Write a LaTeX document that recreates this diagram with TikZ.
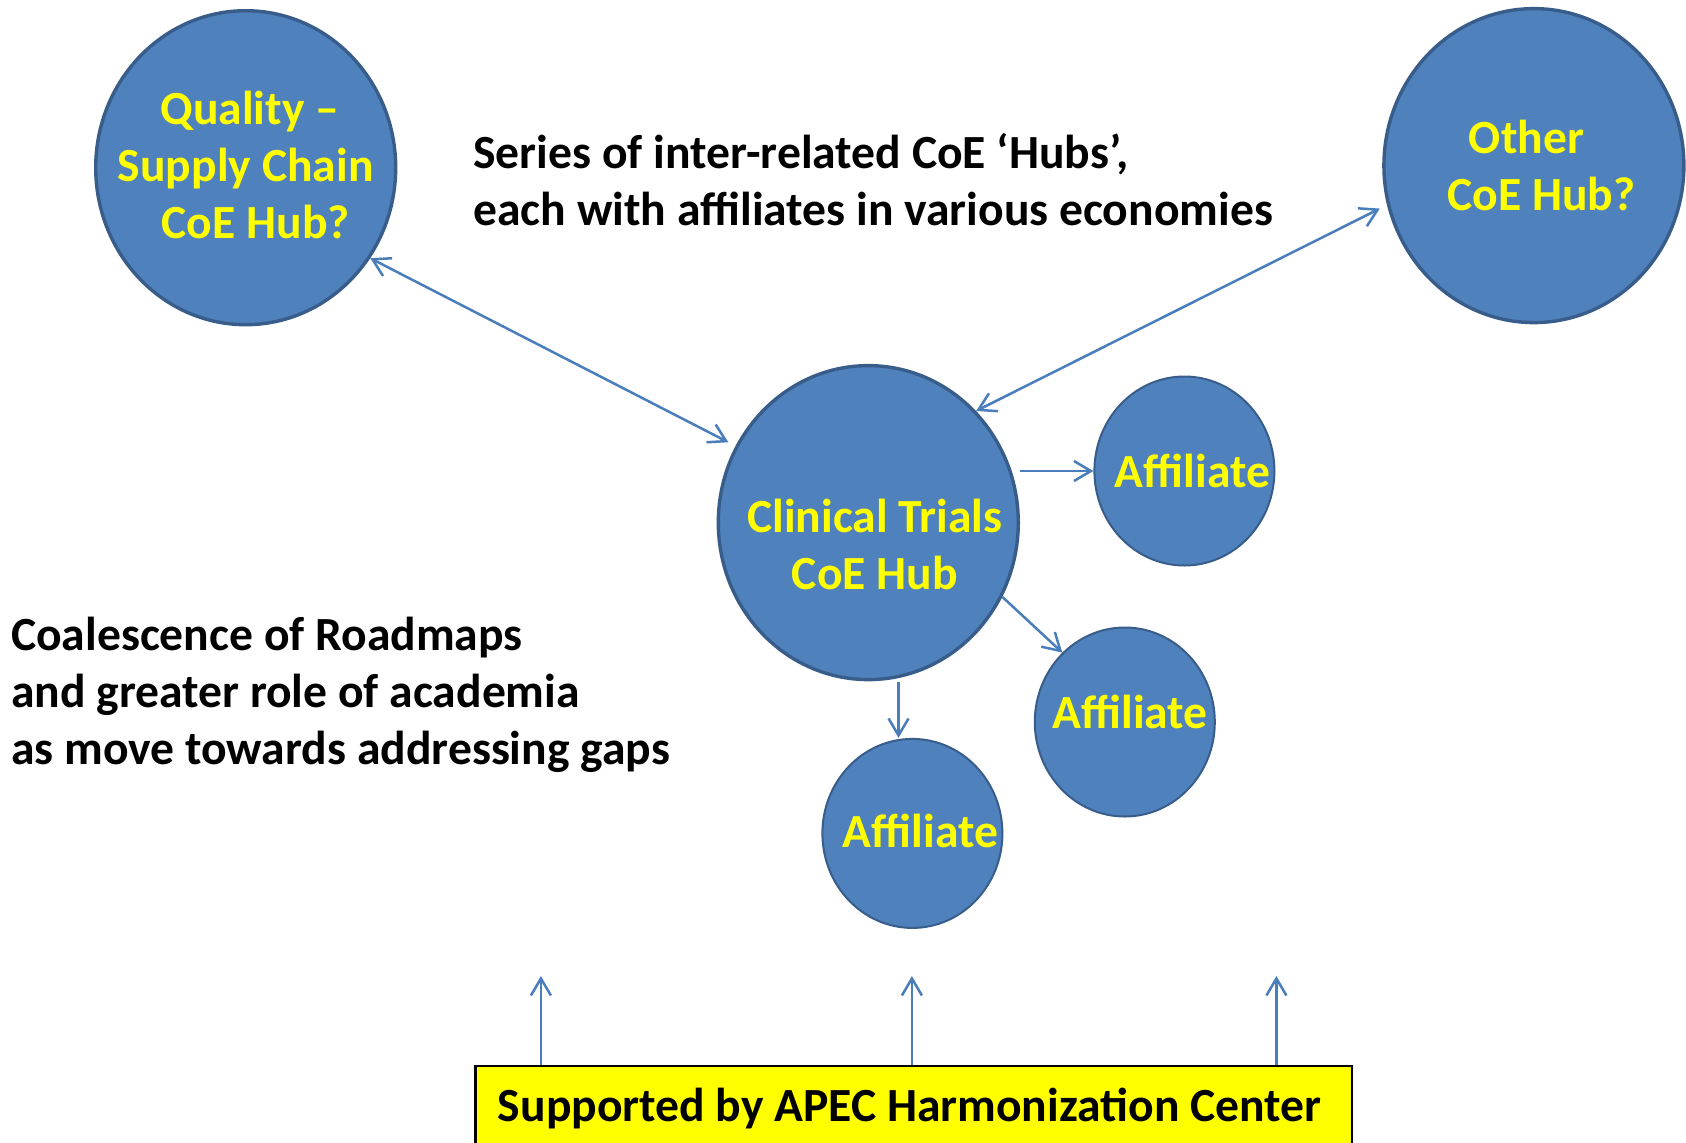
\documentclass[tikz,border=0pt]{standalone}
\usepackage{fontspec}
\setmainfont{Carlito}
\usetikzlibrary{shapes.geometric,arrows.meta}
\definecolor{hubfill}{HTML}{4F81BD}
\definecolor{hubdraw}{HTML}{385D8A}
\definecolor{arrowblue}{HTML}{4A7EBB}
\definecolor{txtyellow}{HTML}{FFFF00}
\begin{document}
\begin{tikzpicture}[x=0.5pt,y=-0.5pt,
  hub/.style={ellipse, draw=hubdraw, line width=1.7pt, fill=hubfill,
    minimum width=150pt, minimum height=157pt, inner sep=0pt},
  aff/.style={ellipse, draw=hubdraw, line width=1pt, fill=hubfill,
    minimum width=90pt, minimum height=94.5pt, inner sep=0pt},
  hubtxt/.style={text=txtyellow, font=\fontsize{23.8}{28.5}\selectfont\bfseries,
    align=center, inner sep=0pt},
  plaintxt/.style={text=black, font=\fontsize{23.8}{28.5}\selectfont\bfseries,
    align=left, inner sep=0pt, anchor=west},
  link/.style={draw=arrowblue, line width=1.25pt},
  onehead/.style={arrows={-Straight Barb[length=8.5pt,width=10pt]}},
  twohead/.style={arrows={Straight Barb[length=8.5pt,width=10pt]-Straight Barb[length=8.5pt,width=10pt]}}
]
\useasboundingbox (0,0) rectangle (1686,1142);

% hubs
\node[hub, label={[hubtxt, yshift=1.5pt]center:{\hspace*{4pt}Quality –\\Supply Chain\\\hspace*{10pt}CoE Hub?}}] (q) at (245.7,167.7) {};
\node[hub, label={[hubtxt]center:{Other\hspace*{7.5pt}\\\hspace*{7.5pt}CoE Hub?}}] (o) at (1533.9,165.6) {};
\node[hub, label={[hubtxt, xshift=3.25pt, yshift=-11pt]center:{Clinical Trials\\CoE Hub}}] (c) at (868.3,522.6) {};

% affiliates
\node[aff, label={[hubtxt, xshift=4pt]center:{Affiliate}}] (a1) at (1184.4,471) {};
\node[aff, label={[hubtxt, xshift=2.7pt, yshift=5pt]center:{Affiliate}}] (a2) at (1124.8,722) {};
\node[aff, label={[hubtxt, xshift=4pt, yshift=1pt]center:{Affiliate}}] (a3) at (912.4,833.4) {};

% free texts
\node[plaintxt] (series) at (473,180) {Series of inter-related CoE ‘Hubs’,\\each with affiliates in various economies};
\node[plaintxt] (coal) at (10.75,695) {Coalescence of Roadmaps\\and greater role of academia\\as move towards addressing gaps};

% support box
\node[draw=black, line width=1.3pt, fill=txtyellow, anchor=north west,
  minimum width=438.3pt, minimum height=42.75pt, inner sep=0pt,
  font=\fontsize{23.8}{28.5}\selectfont\bfseries] (box) at (474,1064.5) {\hspace*{-4pt}Supported by APEC Harmonization Center};

\coordinate (s1) at (540.9,976);
\coordinate (s2) at (911.9,976);
\coordinate (s3) at (1276.4,976);

% connectors
\draw[link, twohead, shorten >=4pt] (q.-36) -- (c.150.6);
\draw[link, twohead, shorten <=4pt] (o.195) -- (c.46);
\draw[link, onehead] (c.east |- a1) -- (a1.west);
\draw[link, onehead] (c.-29) -- (a2.132.9);
\draw[link, onehead, shorten <=2pt] (c.-79.4) -- (c.-79.4 |- a3.north);
\draw[link, onehead] (box.north -| s1) -- (s1);
\draw[link, onehead] (box.north -| s2) -- (s2);
\draw[link, onehead] (box.north -| s3) -- (s3);
\end{tikzpicture}
\end{document}
